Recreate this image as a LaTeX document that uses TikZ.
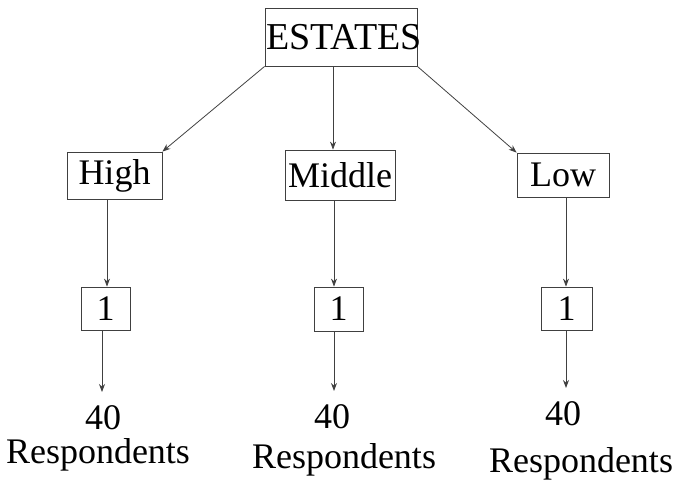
\documentclass[tikz,border=0pt]{standalone}
\usepackage{fontspec}
\setmainfont{Liberation Serif}
\usetikzlibrary{positioning,arrows.meta}
\newcommand{\bigtxt}{\fontsize{36}{40}\selectfont}
\tikzset{
  box/.style={draw=black!75,line width=0.8pt,inner sep=0pt,font=\bigtxt},
  lbl/.style={inner sep=0pt,anchor=base,font=\bigtxt},
  arr/.style={-{Stealth[length=8pt,width=6pt]},line width=0.8pt,black!75},
}

\begin{document}
\begin{tikzpicture}[x=1pt,y=-1pt]
  \useasboundingbox (0,0) rectangle (677,479);
  % top box, text runs a little past its right edge
  \node[box,minimum width=152pt,minimum height=58pt,font=\fontsize{38}{42}\selectfont]
    (est) at (341,37) {\makebox[0pt]{\hspace{6pt}ESTATES}};
  % strata
  \node[box,minimum width=95pt,minimum height=47pt]  (high) at (114.5,175.5) {High};
  \node[box,minimum width=110pt,minimum height=50pt] (mid)  at (340,175)   {Middle};
  \node[box,minimum width=92pt,minimum height=44pt]  (low)  at (563,175)   {Low};
  % one box each
  \node[box,minimum width=49pt,minimum height=43pt] (one1) at (105.5,308.5) {1};
  \node[box,minimum width=49pt,minimum height=44pt] (one2) at (338.5,309)   {1};
  \node[box,minimum width=51pt,minimum height=43pt] (one3) at (566.5,308.5) {1};
  % sample sizes
  \node[lbl] (n1) at (103,429) {40};
  \node[lbl] (n2) at (332,428) {40};
  \node[lbl] (n3) at (563,425) {40};
  \node[lbl] (r1) at (98,463)  {Respondents};
  \node[lbl] (r2) at (344,468) {Respondents};
  \node[lbl] (r3) at (581,472) {Respondents};
  \coordinate (e1) at (102,392);
  \coordinate (e2) at (334,391);
  \coordinate (e3) at (566,388);

  \draw[arr] (est.south west) -- (high.north east);
  \draw[arr] ([xshift=-8pt]est.south) -- ([xshift=-7pt]mid.north);
  \draw[arr] (est.south east) -- (low.north west);

  \draw[arr] (high.south -| 107,0) -- (one1.north -| 107,0);
  \draw[arr] (mid.south -| 334,0) -- (one2.north -| 334,0);
  \draw[arr] (low.south -| 566,0) -- (one3.north -| 566,0);

  \draw[arr] (one1.south -| e1) -- (e1);
  \draw[arr] (one2.south -| e2) -- (e2);
  \draw[arr] (one3.south -| e3) -- (e3);
\end{tikzpicture}
\end{document}
